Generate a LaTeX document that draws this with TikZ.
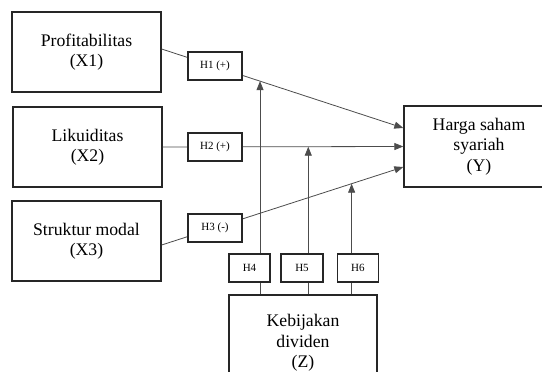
\documentclass[tikz,border=0pt]{standalone}
\usepackage{fontspec}
\setmainfont{Liberation Serif}
\usetikzlibrary{arrows.meta,calc}
\begin{document}
\begin{tikzpicture}[x=1pt,y=-1pt,
  mainbox/.style={draw=black!85,line width=1.3pt,fill=white,inner sep=0pt,minimum width=149pt,minimum height=80pt,align=center,font=\fontsize{17.7}{20.5}\selectfont},
  hbox/.style={draw=black!85,line width=1.2pt,fill=white,inner sep=0pt,minimum height=28pt,font=\fontsize{11}{12}\selectfont},
  conn/.style={draw=black!70,line width=0.8pt},
  arr/.style={conn,-{Triangle[length=9pt,width=7pt]}}]
\useasboundingbox (0,0) rectangle (542,372);
\clip (0,0) rectangle (542,372);
% main boxes
\node[mainbox] (X1) at (86.5,52) {Profitabilitas\\(X1)};
\node[mainbox] (X2) at (87.5,147) {Likuiditas\\(X2)};
\node[mainbox] (X3) at (86.5,241) {Struktur modal\\(X3)};
\node[mainbox,minimum width=150pt,minimum height=81pt] (Y) at (479,146.5) {Harga saham\\syariah\\(Y)};
\node[mainbox,minimum width=148pt,minimum height=96pt] (Z) at (303,343) {Kebijakan\\dividen\\(Z)};
% direct paths
\draw[arr] ($(X1.east)+(0,-3)$) -- ($(Y.west)+(0,-18.5)$) coordinate[pos=0.407] (m1);
\draw[arr] (X2.east) -- (Y.west) coordinate[pos=0.605] (m2);
\draw[arr] ($(X3.east)+(0,4)$) -- ($(Y.west)+(0,20.5)$) coordinate[pos=0.786] (m3);
% moderating arrows
\draw[arr] (m1 |- Z.north) -- (m1);
\draw[arr] (m2 |- Z.north) -- (m2);
\draw[arr] (m3 |- Z.north) -- (m3);
% hypothesis boxes
\node[hbox,minimum width=54pt] (H1) at (215,66) {H1 (+)};
\node[hbox,minimum width=54pt] (H2) at (215,147) {H2 (+)};
\node[hbox,minimum width=54pt] (H3) at (215,228) {H3 (-)};
\node[hbox,minimum width=41pt] (H4) at (249.5,268) {H4};
\node[hbox,minimum width=42pt] (H5) at (302,268) {H5};
\node[hbox,minimum width=41pt] (H6) at (357.8,268) {H6};
\end{tikzpicture}
\end{document}
